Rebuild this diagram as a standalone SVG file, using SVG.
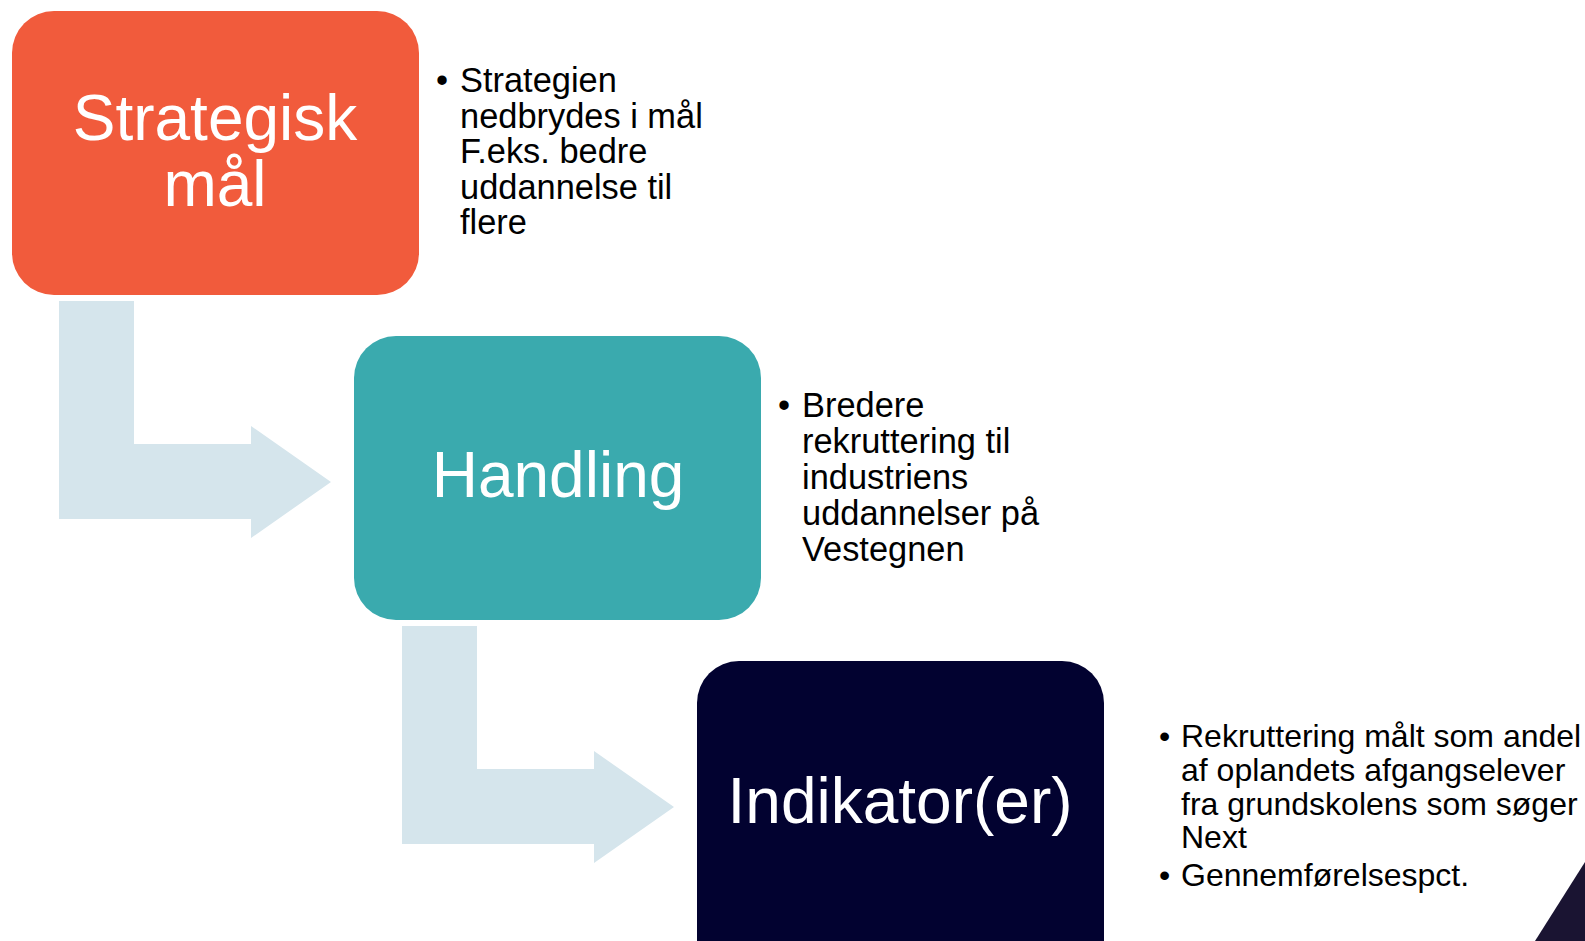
<svg xmlns="http://www.w3.org/2000/svg" width="1585" height="941" viewBox="0 0 1585 941">
<style>
.box-label{font-family:"Liberation Sans",Arial,sans-serif;font-size:64px;fill:#ffffff;text-anchor:middle}
.body{font-family:"Liberation Sans",Arial,sans-serif;font-size:34.4px;fill:#000000}
.body3{font-family:"Liberation Sans",Arial,sans-serif;font-size:32px;fill:#000000}
.arrow{fill:#D5E5EC}
</style>
<defs>
<polygon id="bentArrow" points="59,301 134,301 134,444 251,444 251,426 331,482 251,538 251,519 59,519"/>
</defs>
<rect width="1585" height="941" fill="#ffffff"/>
<g id="connectors">
<use href="#bentArrow" class="arrow"/>
<use href="#bentArrow" class="arrow" transform="translate(343,325)"/>
</g>
<g id="node-strategisk">
<rect x="12" y="11" width="407" height="284" rx="42" ry="42" fill="#F15B3C"/>
<text class="box-label" x="215" y="140">Strategisk</text>
<text class="box-label" x="215" y="206">mål</text>
</g>
<g id="node-handling">
<rect x="354" y="336" width="407" height="284" rx="42" ry="42" fill="#3AAAAE"/>
<text class="box-label" x="558" y="497">Handling</text>
</g>
<g id="node-indikator">
<rect x="697" y="661" width="407" height="330" rx="42" ry="42" fill="#020230"/>
<text class="box-label" x="900" y="823">Indikator(er)</text>
</g>
<g id="text-strategisk">
<text class="body" x="436" y="92">•</text>
<text class="body" x="460" y="92">Strategien</text>
<text class="body" x="460" y="127.5">nedbrydes i mål</text>
<text class="body" x="460" y="163">F.eks. bedre</text>
<text class="body" x="460" y="198.5">uddannelse til</text>
<text class="body" x="460" y="234">flere</text>
</g>
<g id="text-handling">
<text class="body" x="778" y="416.5">•</text>
<text class="body" x="802" y="416.5">Bredere</text>
<text class="body" x="802" y="452.5">rekruttering til</text>
<text class="body" x="802" y="488.5">industriens</text>
<text class="body" x="802" y="524.5">uddannelser på</text>
<text class="body" x="802" y="560.5">Vestegnen</text>
</g>
<g id="text-indikator">
<text class="body3" x="1159" y="747">•</text>
<text class="body3" x="1181" y="747">Rekruttering målt som andel</text>
<text class="body3" x="1181" y="781">af oplandets afgangselever</text>
<text class="body3" x="1181" y="815">fra grundskolens som søger</text>
<text class="body3" x="1181" y="848">Next</text>
<text class="body3" x="1159" y="886">•</text>
<text class="body3" x="1181" y="886">Gennemførelsespct.</text>
</g>
<polygon points="1585,862 1585,941 1535,941" fill="#1A1432"/>
</svg>
